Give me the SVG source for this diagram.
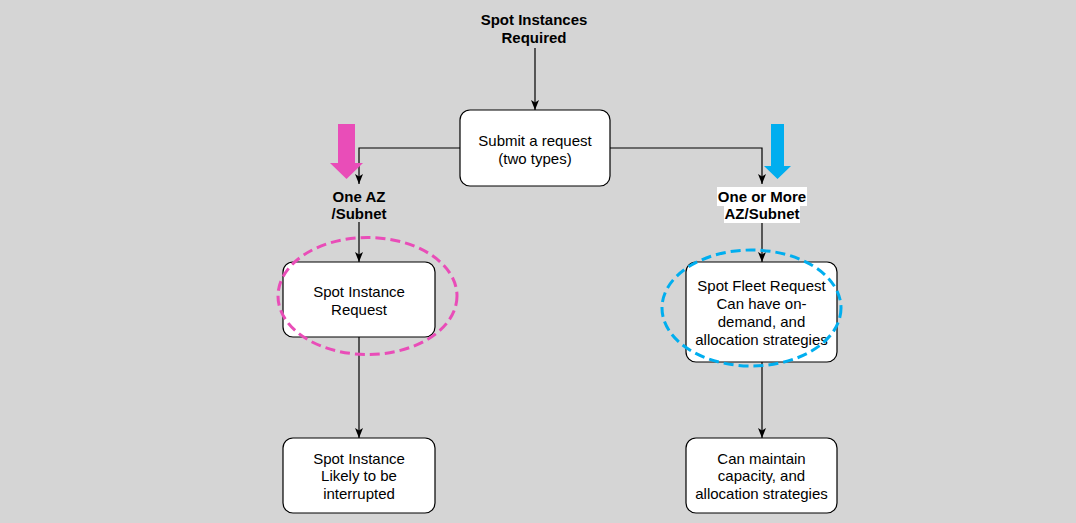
<svg xmlns="http://www.w3.org/2000/svg" width="1076" height="523" viewBox="0 0 1076 523">
<defs>
<marker id="ah" viewBox="0 0 10 10" refX="10" refY="5" markerWidth="10" markerHeight="10" markerUnits="userSpaceOnUse" orient="auto">
<path d="M0,1 L10,5 L0,9 L2.5,5 Z" fill="#000"/>
</marker>
<style>
.box{fill:#fff;stroke:#000;stroke-width:1.2}
.t{font-family:"Liberation Sans",Arial,sans-serif;font-size:15px;fill:#000;text-anchor:middle}
.b{font-weight:bold}
.c{fill:none;stroke:#000;stroke-width:1.2;marker-end:url(#ah)}
</style>
</defs>
<rect width="1076" height="523" fill="#d5d5d5"/>
<g id="connectors">
<path class="c" d="M535,48 V110"/>
<path class="c" d="M460,148 H359 V184"/>
<path class="c" d="M610,148 H762 V184"/>
<path class="c" d="M359,222 V262"/>
<path class="c" d="M762,223 V262"/>
<path class="c" d="M359,337 V438"/>
<path class="c" d="M762,362 V438"/>
</g>
<g id="title">
<text class="t b" x="534" y="25">Spot Instances</text>
<text class="t b" x="534" y="43">Required</text>
</g>
<g id="submit">
<rect class="box" x="460" y="110" width="150" height="76" rx="10"/>
<text class="t" x="535" y="145.5">Submit a request</text>
<text class="t" x="535" y="163.5">(two types)</text>
</g>
<g id="pink-arrow">
<path d="M338,124 H355 V163 H363 L346.5,179 L330,163 H338 Z" fill="#e94db8"/>
</g>
<g id="blue-arrow">
<path d="M771,124 H784 V166 H791 L777.5,179 L764,166 H771 Z" fill="#00aeef"/>
</g>
<g id="label-one-az">
<text class="t b" x="359" y="202">One AZ</text>
<text class="t b" x="359" y="219">/Subnet</text>
</g>
<g id="label-more-az">
<rect x="717" y="187" width="90" height="19" fill="#fff"/>
<rect x="724" y="206" width="76" height="17" fill="#fff"/>
<text class="t b" x="762" y="202">One or More</text>
<text class="t b" x="762" y="219">AZ/Subnet</text>
</g>
<g id="spot-instance-request">
<rect class="box" x="283" y="262" width="152" height="75" rx="10"/>
<text class="t" x="359" y="297">Spot Instance</text>
<text class="t" x="359" y="314.5">Request</text>
</g>
<g id="spot-fleet-request">
<rect class="box" x="686" y="262" width="151" height="100" rx="10"/>
<text class="t" x="761.5" y="291">Spot Fleet Request</text>
<text class="t" x="761.5" y="309">Can have on-</text>
<text class="t" x="761.5" y="327">demand, and</text>
<text class="t" x="761.5" y="344.5">allocation strategies</text>
</g>
<g id="spot-instance">
<rect class="box" x="283" y="438" width="152" height="75" rx="10"/>
<text class="t" x="359" y="463.5">Spot Instance</text>
<text class="t" x="359" y="481">Likely to be</text>
<text class="t" x="359" y="498.5">interrupted</text>
</g>
<g id="maintain-capacity">
<rect class="box" x="686" y="438" width="151" height="75" rx="10"/>
<text class="t" x="761.5" y="463.5">Can maintain</text>
<text class="t" x="761.5" y="481">capacity, and</text>
<text class="t" x="761.5" y="498.5">allocation strategies</text>
</g>
<g id="pink-ellipse">
<ellipse cx="367.5" cy="296" rx="89.5" ry="58.5" fill="none" stroke="#e94db8" stroke-width="3" stroke-dasharray="10 5"/>
</g>
<g id="blue-ellipse">
<ellipse cx="751.5" cy="308" rx="89.5" ry="58" fill="none" stroke="#00aeef" stroke-width="3" stroke-dasharray="10 5"/>
</g>
</svg>
